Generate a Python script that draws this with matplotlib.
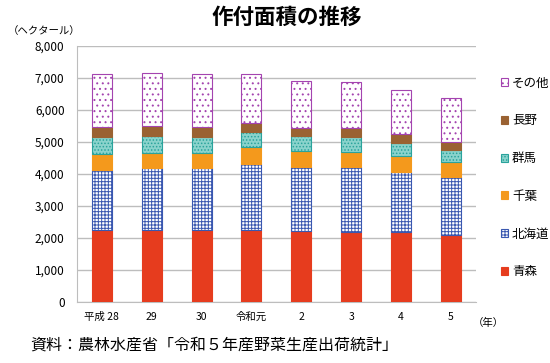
import numpy as np
import matplotlib
matplotlib.use('Agg')
import matplotlib.pyplot as plt

plt.rcParams['font.family'] = ['Noto Sans CJK JP', 'DejaVu Sans']
plt.rcParams['hatch.linewidth'] = 0.7

# data (ha)
years = ['平成 28', '29', '30', '令和元', '2', '3', '4', '5']
aomori = [2250, 2250, 2250, 2250, 2229, 2198, 2198, 2094]
hokkaido = [1875, 1927, 1927, 2062, 1979, 2031, 1874, 1802]
chiba = [500, 490, 473, 521, 511, 468, 490, 489]
gunma = [540, 523, 516, 479, 468, 449, 396, 365]
nagano = [315, 320, 314, 292, 261, 281, 282, 260]
sonota = [1645, 1656, 1645, 1521, 1468, 1458, 1385, 1355]

series = [
    ('青森', aomori, dict(facecolor='#E63C1E', edgecolor='#E63C1E', hatch=None)),
    ('北海道', hokkaido, dict(facecolor='white', edgecolor='#3A58B0', hatch='+++++')),
    ('千葉', chiba, dict(facecolor='#F4991C', edgecolor='#F4991C', hatch=None)),
    ('群馬', gunma, dict(facecolor='#8AD3CC', edgecolor='#2AA39C', hatch='.....')),
    ('長野', nagano, dict(facecolor='#9A6232', edgecolor='#9A6232', hatch=None)),
    ('その他', sonota, dict(facecolor='white', edgecolor='#A444B0', hatch='...')),
]

fig = plt.figure(figsize=(5.5, 3.63), dpi=100)
ax = fig.add_axes([0.14, 0.168, 0.725, 0.705])

x = np.arange(len(years))
bottom = np.zeros(len(years))
handles = []
for name, vals, style in series:
    b = ax.bar(x, vals, width=0.4, bottom=bottom, label=name, linewidth=0.8, zorder=3, **style)
    bottom += np.array(vals)
    handles.append(b)

ax.set_xlim(-0.5, 7.5)
ax.set_ylim(0, 8000)
ax.set_yticks(np.arange(0, 8001, 1000))
ax.set_yticklabels([f'{v:,}' for v in range(0, 8001, 1000)], fontsize=8.5)
ax.set_xticks(x)
ax.set_xticklabels(years, fontsize=7.5)
ax.tick_params(axis='y', length=0, pad=9)
ax.tick_params(axis='x', length=0, pad=7)
ax.grid(axis='y', color='#BDBDBD', linewidth=1, zorder=0)
for s in ['top', 'right']:
    ax.spines[s].set_visible(False)
for s in ['left', 'bottom']:
    ax.spines[s].set_color('#BDBDBD')

fig.text(0.522, 0.953, '作付面積の推移', ha='center', va='center', fontsize=15.5, fontweight='bold')
fig.text(0.015, 0.915, '（ヘクタール）', ha='left', va='center', fontsize=7.5)
fig.text(0.86, 0.11, '（年）', ha='left', va='center', fontsize=7.5)
fig.text(0.055, 0.05, '資料：農林水産省「令和５年産野菜生産出荷統計」', ha='left', va='center', fontsize=11.5)

fig.legend(handles[::-1], [s[0] for s in series][::-1], loc='upper left',
           bbox_to_anchor=(0.89, 0.82), frameon=False, fontsize=9,
           handlelength=0.6, handleheight=0.6, handletextpad=0.3, labelspacing=1.98)

fig.savefig('out.png', dpi=100)
